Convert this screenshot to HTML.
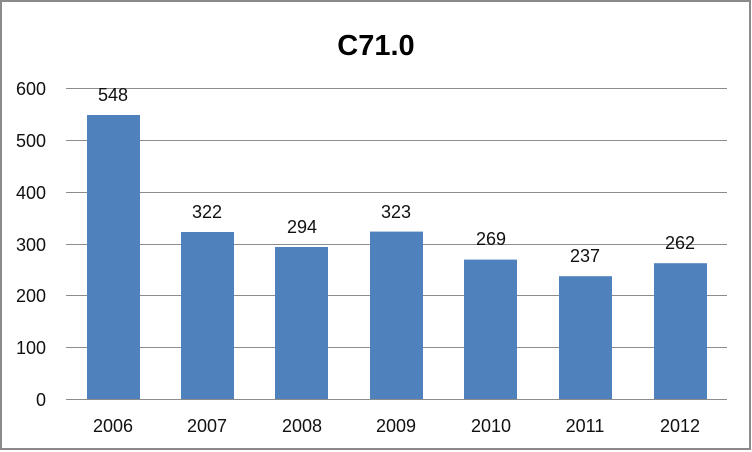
<!DOCTYPE html>
<html><head><meta charset="utf-8"><style>
html,body{margin:0;padding:0;background:#fff;}
svg{display:block;}
text{font-family:"Liberation Sans",sans-serif;}
</style></head><body>
<svg width="752" height="452" viewBox="0 0 752 452" xmlns="http://www.w3.org/2000/svg">
<rect x="1" y="1" width="749" height="448" fill="#fff" stroke="#8a8a8a" stroke-width="2"/>
<text x="376" y="55" text-anchor="middle" font-size="29" font-weight="bold" fill="#000">C71.0</text>
<g stroke="#8c8c8c" stroke-width="1">
<line x1="66" y1="88.5" x2="727" y2="88.5"/>
<line x1="66" y1="140.5" x2="727" y2="140.5"/>
<line x1="66" y1="192.5" x2="727" y2="192.5"/>
<line x1="66" y1="244.5" x2="727" y2="244.5"/>
<line x1="66" y1="295.5" x2="727" y2="295.5"/>
<line x1="66" y1="347.5" x2="727" y2="347.5"/>
<line x1="66" y1="399.5" x2="727" y2="399.5"/>
</g>
<g font-size="18" fill="#111" text-anchor="end">
<text x="46" y="95">600</text>
<text x="46" y="147">500</text>
<text x="46" y="199">400</text>
<text x="46" y="251">300</text>
<text x="46" y="302">200</text>
<text x="46" y="354">100</text>
<text x="46" y="406">0</text>
</g>
<g fill="#4f81bd">
<rect x="87" y="115" width="53" height="284"/>
<rect x="181" y="232" width="53" height="167"/>
<rect x="275" y="247" width="53" height="152"/>
<rect x="370" y="231.6" width="53" height="167.4"/>
<rect x="464" y="259.6" width="53" height="139.4"/>
<rect x="559" y="276.2" width="53" height="122.8"/>
<rect x="654" y="263.2" width="53" height="135.8"/>
</g>
<g font-size="18" fill="#111" text-anchor="middle">
<text x="113" y="101">548</text>
<text x="207" y="218">322</text>
<text x="302" y="233">294</text>
<text x="396" y="218">323</text>
<text x="491" y="245">269</text>
<text x="585" y="262">237</text>
<text x="680" y="249">262</text>
</g>
<g font-size="18" fill="#111" text-anchor="middle">
<text x="113" y="432">2006</text>
<text x="207" y="432">2007</text>
<text x="302" y="432">2008</text>
<text x="396" y="432">2009</text>
<text x="491" y="432">2010</text>
<text x="585" y="432">2011</text>
<text x="680" y="432">2012</text>
</g>
</svg>
</body></html>
